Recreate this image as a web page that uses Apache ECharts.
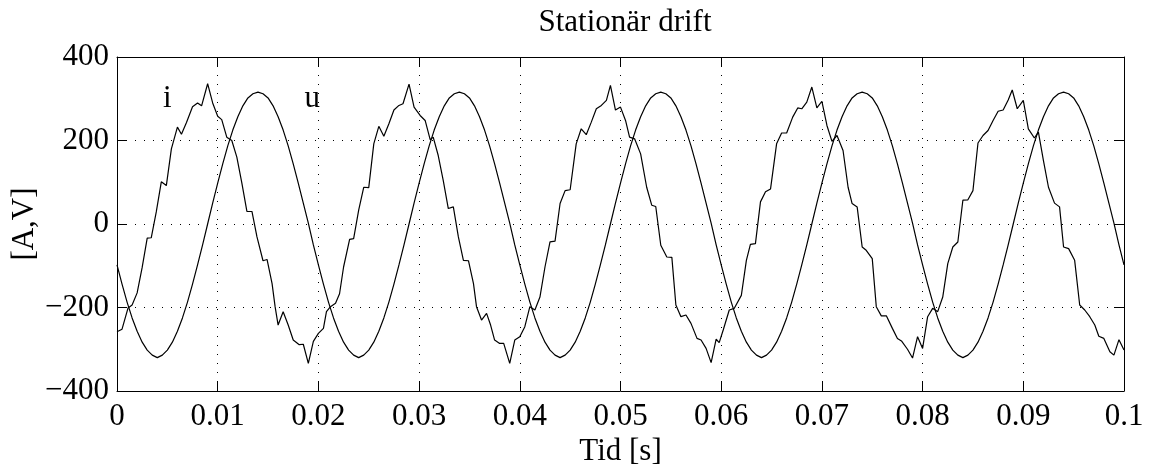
<!DOCTYPE html>
<html><head><meta charset="utf-8">
<script src="https://cdn.jsdelivr.net/npm/echarts@6/dist/echarts.min.js"></script>
<style>html,body{margin:0;padding:0;background:#fff}#c{width:1150px;height:466px}</style>
</head><body><div id="c"></div>
<script>
const titleText = 'Stationär drift';
const xAxisName = 'Tid [s]';
const yAxisName = '[A,V]';

// voltage u, sampled every 0.5 ms from 0 to 100 ms
const uStepMs = 0.5;
const uValues = [
 -98,-144,-187,-225,-257,-283,-302,-314,-320,-314,-302,-283,-257,-225,-187,-144,-98,-50,0,50,98,144,187,225,257,283,302,312,316,312,302,283,257,225,187,144,98,50,2,-50,
 -98,-144,-187,-225,-257,-283,-302,-314,-320,-314,-302,-283,-257,-225,-187,-144,-98,-50,0,50,98,144,187,225,257,283,302,312,316,312,302,283,257,225,187,144,98,50,2,-50,
 -98,-144,-187,-225,-257,-283,-302,-314,-320,-314,-302,-283,-257,-225,-187,-144,-98,-50,0,50,98,144,187,225,257,283,302,312,316,312,302,283,257,225,187,144,98,50,2,-50,
 -98,-144,-187,-225,-257,-283,-302,-314,-320,-314,-302,-283,-257,-225,-187,-144,-98,-50,0,50,98,144,187,225,257,283,302,312,316,312,302,283,257,225,187,144,98,50,2,-50,
 -98,-144,-187,-225,-257,-283,-302,-314,-320,-314,-302,-283,-257,-225,-187,-144,-98,-50,0,50,98,144,187,225,257,283,302,312,316,312,302,283,257,225,187,144,98,50,2,-50,
 -98
];

// current i, read point by point (time in ms)
const iTimeMs = [
 0,0.5,1.1,1.5,2.0,2.5,3.0,3.4,3.9,4.4,4.9,5.4,6.0,6.4,6.9,7.5,8.0,8.4,9.0,9.5,10.0,10.4,10.9,11.4,11.9,12.4,12.9,13.4,13.9,14.5,14.9,15.4,15.7,16.0,16.5,17.0,17.5,18.1,18.5,19.0,19.5,20.0,
 20.5,20.8,21.2,21.7,22.1,22.5,23.1,23.5,24.0,24.5,25.0,25.5,26.0,26.5,27.0,27.5,28.0,28.4,29.0,29.5,30.1,30.6,31.1,31.4,31.9,32.4,32.9,33.4,33.9,34.4,34.9,35.4,35.7,36.2,36.7,37.1,37.5,38.0,38.4,39.0,39.5,40.0,
 40.5,41.0,41.5,42.0,42.5,43.0,43.5,44.0,44.5,45.0,45.6,46.1,46.6,47.1,47.6,48.1,48.6,49.0,49.5,50.0,50.5,50.9,51.4,52.0,52.6,53.1,53.5,54.0,54.6,55.1,55.5,56.0,56.5,57.0,57.6,58.0,58.5,59.0,59.5,59.8,60.2,
 60.8,61.3,62.0,62.5,62.9,63.4,63.9,64.4,64.9,65.5,66.0,66.5,67.1,67.6,68.0,68.5,69.0,69.5,70.0,70.5,71.0,71.5,72.1,72.6,73.0,73.5,74.0,74.4,75.0,75.4,75.9,76.4,77.0,77.5,77.9,78.5,79.0,79.5,
 80.0,80.5,81.0,81.5,82.0,82.5,83.0,83.5,84.0,84.5,85.0,85.5,86.0,86.5,87.0,87.5,88.0,88.5,88.9,89.4,90.0,90.5,91.1,91.5,92.0,92.5,93.1,93.6,94.0,94.5,95.1,95.6,96.1,96.6,97.1,97.5,98.0,98.6,99.0,99.5,100.0
];
const iValues = [
 -258,-252,-201,-194,-165,-104,-34,-33,29,101,92,180,232,215,243,281,290,283,336,290,258,250,208,200,160,98,30,30,-31,-88,-85,-143,-198,-242,-210,-242,-278,-289,-288,-334,-281,-262,
 -250,-210,-198,-190,-167,-103,-37,-35,33,88,87,192,234,210,240,273,284,288,335,280,260,248,202,208,164,104,37,41,-31,-87,-88,-143,-198,-230,-214,-242,-278,-286,-286,-334,-278,-270,
 -246,-198,-206,-175,-103,-43,-41,49,80,82,192,228,214,244,276,284,296,332,273,280,248,208,204,168,88,45,42,-51,-79,-80,-194,-222,-218,-238,-274,-278,-298,-332,-276,-284,-254,
 -206,-202,-171,-87,-49,-47,53,77,84,192,218,218,256,278,276,292,328,278,294,236,198,212,176,88,49,41,-55,-63,-83,-198,-220,-220,-250,-274,-280,-300,-321,-270,
 -298,-222,-202,-210,-175,-95,-55,-43,57,58,80,194,212,224,248,270,273,297,321,276,296,228,206,220,152,88,50,41,-55,-59,-87,-194,-206,-222,-242,-269,-274,-306,-314,-277,-302
];

const curveLabels = ['i', 'u'];
const curveLabelTimeMs = [5.0, 19.4];
const curveLabelValue = [300, 300];

const FONT = "'Liberation Serif','Times New Roman',serif";
const FS = 31;
const BLACK = '#000';

const uData = uValues.map((v, k) => [k * uStepMs, v]);
const iData = iTimeMs.map((t, k) => [t, iValues[k]]);
const labelData = curveLabels.map((s, k) => ({ value: [curveLabelTimeMs[k], curveLabelValue[k]], name: s }));

const lineStyleAxis = { color: BLACK, width: 1 };
const gridDots = { show: true, lineStyle: { color: BLACK, width: 1, type: [1, 8] } };

const chart = echarts.init(document.getElementById('c'), null, { renderer: 'canvas' });
chart.setOption({
  animation: false,
  backgroundColor: '#fff',
  title: {
    text: titleText, left: 620, top: 2, textAlign: 'center',
    textStyle: { fontFamily: FONT, fontSize: FS, fontWeight: 'normal', color: BLACK }
  },
  grid: { left: 117, right: 26, top: 57, bottom: 75, containLabel: false, outerBoundsMode: 'none' },
  xAxis: [{
    type: 'value', position: 'bottom', min: 0, max: 100, interval: 10,
    axisLine: { show: true, onZero: false, lineStyle: lineStyleAxis },
    axisTick: { show: true, inside: true, length: 10, lineStyle: lineStyleAxis },
    axisLabel: { show: true, margin: 10, fontFamily: FONT, fontSize: FS, color: BLACK,
      formatter: v => String(+(v / 1000).toFixed(2)) },
    splitLine: gridDots,
    name: xAxisName, nameLocation: 'middle', nameGap: 45, nameMoveOverlap: false,
    nameTextStyle: { fontFamily: FONT, fontSize: FS, color: BLACK }
  }, {
    type: 'value', position: 'top', min: 0, max: 100, interval: 10,
    axisLine: { show: true, onZero: false, lineStyle: lineStyleAxis },
    axisTick: { show: true, inside: true, length: 10, lineStyle: lineStyleAxis },
    axisLabel: { show: false }, splitLine: { show: false }
  }],
  yAxis: [{
    type: 'value', position: 'left', min: -400, max: 400, interval: 200,
    axisLine: { show: true, onZero: false, lineStyle: lineStyleAxis },
    axisTick: { show: true, inside: true, length: 10, lineStyle: lineStyleAxis },
    axisLabel: { show: true, margin: 8, fontFamily: FONT, fontSize: FS, color: BLACK,
      formatter: v => String(v).replace('-', '\u2212') },
    splitLine: gridDots,
    name: yAxisName, nameLocation: 'middle', nameGap: 77, nameRotate: 90, nameMoveOverlap: false,
    nameTextStyle: { fontFamily: FONT, fontSize: FS, color: BLACK }
  }, {
    type: 'value', position: 'right', min: -400, max: 400, interval: 200,
    axisLine: { show: true, onZero: false, lineStyle: lineStyleAxis },
    axisTick: { show: true, inside: true, length: 10, lineStyle: lineStyleAxis },
    axisLabel: { show: false }, splitLine: { show: false }
  }],
  series: [{
    name: 'u', type: 'line', xAxisIndex: 0, yAxisIndex: 0, data: uData,
    symbol: 'none', smooth: false, lineStyle: { color: BLACK, width: 1.2 }, silent: true
  }, {
    name: 'i', type: 'line', xAxisIndex: 0, yAxisIndex: 0, data: iData,
    symbol: 'none', smooth: false, lineStyle: { color: BLACK, width: 1.2 }, silent: true
  }, {
    name: 'labels', type: 'scatter', xAxisIndex: 0, yAxisIndex: 0, data: labelData,
    symbol: 'circle', symbolSize: 1, itemStyle: { color: 'rgba(0,0,0,0)' }, silent: true,
    label: { show: true, position: 'inside', formatter: p => p.name,
      fontFamily: FONT, fontSize: FS, color: BLACK, opacity: 1,
      textBorderWidth: 0, textBorderColor: 'transparent' }
  }]
});
</script></body></html>
